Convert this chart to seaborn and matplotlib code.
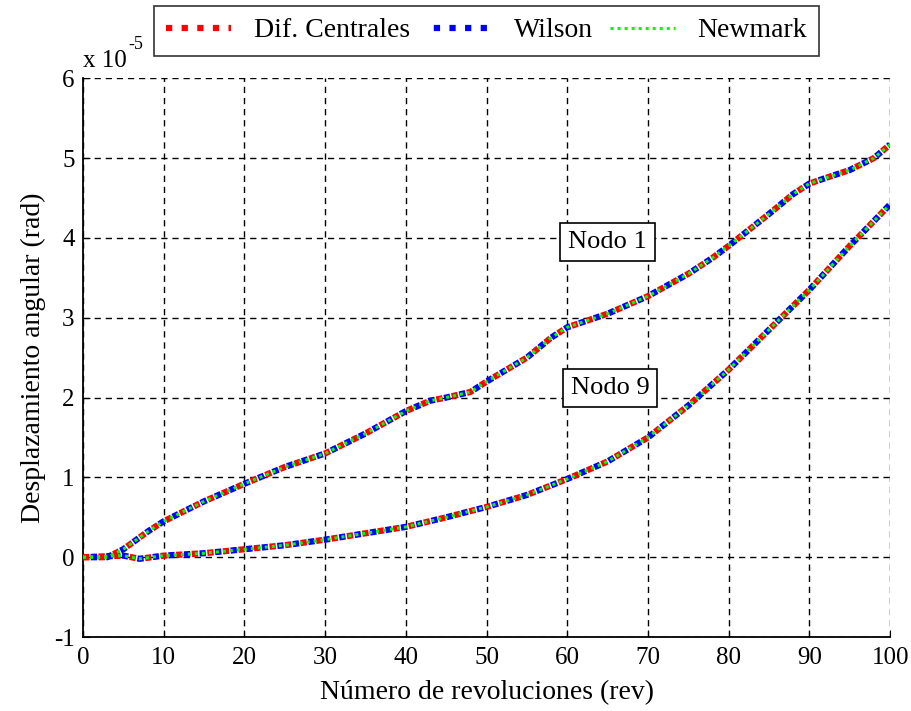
import matplotlib
matplotlib.use("Agg")
import matplotlib.pyplot as plt
import seaborn as sns
import pandas as pd

# Angular displacement (x 1e-5 rad) versus number of revolutions
rev_n1 = [0, 3, 5, 8, 10, 15, 20, 25, 30, 35, 40, 43, 45, 48, 50, 55, 58, 60,
          65, 70, 75, 78, 80, 85, 88, 90, 92, 95, 98, 100]
nodo1 = [0.0, 0.0, 0.1, 0.32, 0.45, 0.7, 0.92, 1.13, 1.3, 1.55, 1.83, 1.96,
         2.0, 2.07, 2.2, 2.5, 2.75, 2.88, 3.05, 3.27, 3.55, 3.75, 3.9, 4.3,
         4.55, 4.68, 4.75, 4.85, 5.0, 5.17]

rev_n9 = [0, 5, 7, 10, 15, 20, 25, 30, 35, 40, 45, 50, 55, 60, 65, 70, 75, 80,
          85, 90, 95, 100]
nodo9 = [0.0, 0.02, -0.02, 0.02, 0.05, 0.1, 0.15, 0.22, 0.3, 0.38, 0.5, 0.63,
         0.78, 0.98, 1.2, 1.5, 1.9, 2.35, 2.85, 3.35, 3.9, 4.42]

methods = ["Dif. Centrales", "Wilson", "Newmark"]
colors = {"Dif. Centrales": "#ff0000", "Wilson": "#0000ff", "Newmark": "#00ff00"}
styles = {
    "Dif. Centrales": dict(lw=4.5, linestyle=(0, (1.0, 1.5)), zorder=3),
    "Wilson": dict(lw=4.5, linestyle=(1.25, (1.0, 1.5)), zorder=4),
    "Newmark": dict(lw=2.2, linestyle=(0, (1.0, 1.3)), zorder=5),
}

xticks = list(range(0, 101, 10))
yticks = list(range(-1, 7))

plt.rcParams["font.family"] = ["Liberation Serif", "DejaVu Serif"]
plt.rcParams["axes.unicode_minus"] = False

fig = plt.figure(figsize=(9.12, 7.11), dpi=100)
ax = fig.add_axes([0.091, 0.104, 0.885, 0.786])

for m in methods:
    for rx, ry in ((rev_n1, nodo1), (rev_n9, nodo9)):
        df = pd.DataFrame({"rev": rx, "theta": ry})
        sns.lineplot(data=df, x="rev", y="theta", ax=ax, color=colors[m],
                     solid_capstyle="butt", dash_capstyle="butt",
                     label=m if ry is nodo1 else None, legend=False,
                     **styles[m])

ax.set_xlim(0, 100)
ax.set_ylim(-1, 6)
ax.set_xticks(xticks)
ax.set_yticks(yticks)
ax.tick_params(direction="in", labelsize=18, colors="black", length=5)
ax.tick_params(axis="x", pad=7)
ax.tick_params(axis="y", pad=6)
ax.grid(True, color="black", linestyle=(0, (4.5, 3.5)), linewidth=1)
ax.set_axisbelow(True)
for s in ("top", "right"):
    ax.spines[s].set_visible(False)
for s in ("left", "bottom"):
    ax.spines[s].set_linewidth(1.3)
    ax.spines[s].set_color("black")

ax.set_xlabel("Número de revoluciones (rev)", fontsize=20, labelpad=8)
ax.set_ylabel("Desplazamiento angular (rad)", fontsize=20, labelpad=6)

# Scale factor above the y axis
ax.text(0.0, 1.012, "x 10", transform=ax.transAxes, fontsize=18,
        ha="left", va="bottom")
ax.text(0.056, 1.045, "-5", transform=ax.transAxes, fontsize=13,
        ha="left", va="bottom")

box = dict(boxstyle="square,pad=0.3", fc="white", ec="black", lw=1.2)
ax.text(65, 3.95, "Nodo 1", fontsize=19, ha="center", va="center", bbox=box, zorder=6)
ax.text(65.3, 2.12, "Nodo 9", fontsize=19, ha="center", va="center", bbox=box, zorder=6)

leg = ax.legend(loc="lower center", bbox_to_anchor=(0.5, 1.0), ncol=3,
                fontsize=20, frameon=True, fancybox=False, edgecolor="black",
                handlelength=2.35, columnspacing=0.6, handletextpad=0.8,
                borderpad=0.45, borderaxespad=0.8)
leg.get_frame().set_linewidth(1.2)

fig.savefig("out.png", dpi=100)
